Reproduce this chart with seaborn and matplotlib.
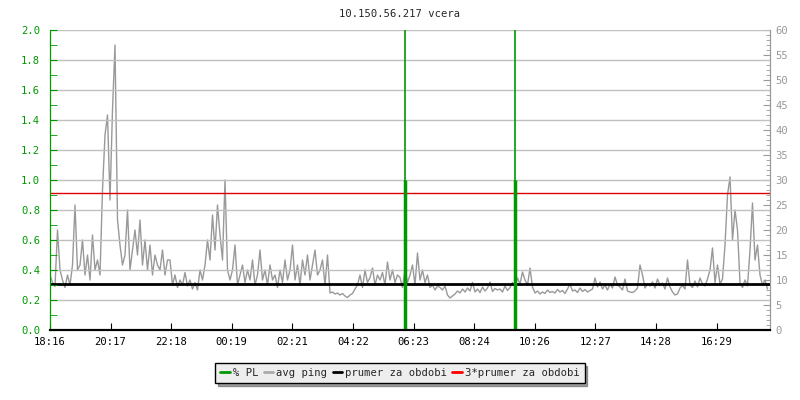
import numpy as np
import pandas as pd
import seaborn as sns
import matplotlib.pyplot as plt
from matplotlib.lines import Line2D
from matplotlib.ticker import MultipleLocator

title = "10.150.56.217 vcera"

# avg ping in ms, one sample every 5 minutes starting at 18:16 (one row = 1 hour)
ping_ms = [
    11, 9.5, 8.7, 20, 12, 10, 8.5, 11, 9, 13, 25, 12,
    13, 18, 11, 15, 10, 19, 12, 14, 11, 28, 39, 43,
    26, 44, 57, 22, 17, 13, 15, 24, 12, 16, 20, 15,
    22, 13, 18, 12, 17, 11, 15, 13, 12, 16, 11, 14,
    14, 9, 11, 8.5, 10, 9, 11.5, 8.8, 10, 8.2, 9.5, 8,
    12, 10, 13, 18, 14, 23, 16, 25, 19, 14, 30, 12,
    10, 12, 17, 9, 11, 13, 9.5, 12, 10, 14, 9, 11,
    16, 10, 12, 9, 13, 10, 11, 8.5, 12, 9.5, 14, 10,
    12, 17, 10, 13, 9, 14, 11, 15, 10, 13, 16, 11,
    12, 14, 9, 15, 7.4, 7.6, 7.2, 7.4, 7.0, 7.3, 6.8, 6.5,
    7, 7.3, 8.2, 9, 11, 8.5, 12, 9.5, 10.5, 12.4, 9, 11,
    10, 11.5, 9, 13.6, 10, 12, 9.5, 11, 10.5, 8.5, 12, 9.5,
    11, 13, 9, 15.4, 10, 12, 9.5, 11, 8.5, 9, 8, 8.8,
    8.5, 8, 8.8, 7, 6.4, 6.8, 7.2, 7.8, 7.4, 8.2, 7.6, 8.4,
    7.8, 9.5, 7.6, 8.2, 7.5, 8.6, 7.8, 8.4, 9.6, 7.7, 8.3, 8.0,
    8.2, 7.6, 8.8, 7.9, 8.5, 9.5, 8.8, 10.4, 9.2, 11.6, 10, 9,
    12.4, 8.6, 7.4, 7.8, 7.2, 7.6, 7.3, 8.0, 7.5, 7.7, 7.4, 8.1,
    7.6, 7.9, 7.3, 8.2, 9.2, 7.8, 8.0, 7.5, 8.4, 7.7, 8.1, 7.6,
    7.9, 8.2, 10.4, 8.6, 9.6, 8.2, 9.0, 8.0, 9.2, 8.4, 10.6, 9.0,
    8.6, 8.0, 10.2, 7.8, 7.6, 7.5, 7.8, 8.4, 13, 11, 8.4, 9.2,
    8.8, 9.6, 8.4, 10.2, 8.9, 9.4, 8.2, 10.4, 8.6, 7.6, 7.0, 7.2,
    8.4, 8.9, 8.2, 14, 9.0, 8.5, 9.8, 8.6, 10.4, 9.2, 8.8, 10.2,
    12, 16.4, 9.5, 13, 9.2, 10.2, 17, 27, 30.6, 18, 24, 20,
    9.5, 8.5, 10, 8.8, 16, 25.4, 14, 17, 11, 9, 10, 8.2,
]
sample_min = 5

# packet loss events: minutes after 18:16, percent
pl_minutes = [709, 929]
pl_values = [1.0, 1.0]

prumer = 9.13  # ms
tick_labels = ["18:16", "20:17", "22:18", "00:19", "02:21", "04:22",
               "06:23", "08:24", "10:26", "12:27", "14:28", "16:29"]
tick_step = 121.2

df = pd.DataFrame({"t": np.arange(len(ping_ms)) * sample_min, "ping": ping_ms})

sns.set_style("white")
plt.rcParams["font.family"] = ["DejaVu Sans Mono"]

green = "#009900"
grey = "#999999"
fs = 7.6

fig = plt.figure(figsize=(8, 4), dpi=100)
ax_ms = fig.add_axes([0.0625, 0.175, 0.9, 0.75])
ax_pl = ax_ms.twinx()
ax_pl.set_zorder(ax_ms.get_zorder() + 1)
ax_pl.patch.set_visible(False)

# ping on the right axis
sns.lineplot(data=df, x="t", y="ping", ax=ax_ms, color=grey, lw=1, zorder=3)
ax_ms.axhline(prumer, color="black", lw=2, zorder=4)
ax_ms.axhline(3 * prumer, color="#dd0000", lw=1, zorder=4)
ax_ms.set_ylim(0, 60)
ax_ms.set_xlim(0, 1440)
ax_ms.yaxis.tick_right()
ax_ms.yaxis.set_major_locator(MultipleLocator(5))
ax_ms.yaxis.set_minor_locator(MultipleLocator(1))
ax_ms.tick_params(axis="y", which="both", direction="in", colors=grey,
                  labelsize=fs, right=True, left=False, pad=4)
ax_ms.tick_params(axis="y", which="major", length=5)
ax_ms.tick_params(axis="y", which="minor", length=3)
ax_ms.set_xlabel("")
ax_ms.set_ylabel("")

# packet loss on the left axis
for t, v in zip(pl_minutes, pl_values):
    ax_pl.axvline(t, color=green, lw=1.2)
    ax_pl.vlines(t, 0, v, color=green, lw=2.5)
ax_pl.set_ylim(0, 2.0)
ax_pl.yaxis.tick_left()
ax_pl.yaxis.set_major_locator(MultipleLocator(0.2))
ax_pl.yaxis.set_minor_locator(MultipleLocator(0.1))
ax_pl.yaxis.set_major_formatter(lambda v, p: f"{v:.1f}")
ax_pl.tick_params(axis="y", which="both", direction="in", colors=green,
                  labelsize=fs, left=True, right=False, length=5, pad=7)

# horizontal grid every 0.2 %
ax_ms.grid(False)
ax_pl.grid(False)
for g in np.arange(0.2, 2.01, 0.2):
    ax_pl.axhline(g, color="#c0c0c0", lw=1, zorder=0)

ax_ms.set_xticks([i * tick_step for i in range(len(tick_labels))])
ax_ms.set_xticklabels(tick_labels)
ax_ms.tick_params(axis="x", direction="in", length=5, colors="black",
                  labelsize=fs, bottom=True, pad=5)

for a in (ax_ms, ax_pl):
    a.spines["top"].set_visible(False)
    a.spines["left"].set_color(green)
    a.spines["right"].set_color(grey)
    a.spines["bottom"].set_color("black")
    a.spines["bottom"].set_linewidth(1.5)

fig.text(0.5, 0.965, title, ha="center", va="center", fontsize=fs)

handles = [Line2D([], [], color=green, lw=2),
           Line2D([], [], color="#aaaaaa", lw=2),
           Line2D([], [], color="black", lw=2),
           Line2D([], [], color="red", lw=2)]
labels = ["% PL", "avg ping", "prumer za obdobi", "3*prumer za obdobi"]
leg = fig.legend(handles, labels, loc="center", bbox_to_anchor=(0.5, 0.0675),
                 ncol=4, fontsize=fs, frameon=True, fancybox=False, shadow=True,
                 handlelength=0.9, handletextpad=0.3, columnspacing=0.5,
                 borderpad=0.45, borderaxespad=0)
leg.get_frame().set_facecolor("#eeeeee")
leg.get_frame().set_edgecolor("black")
leg.get_frame().set_alpha(1)

fig.savefig("out.png", dpi=100)
